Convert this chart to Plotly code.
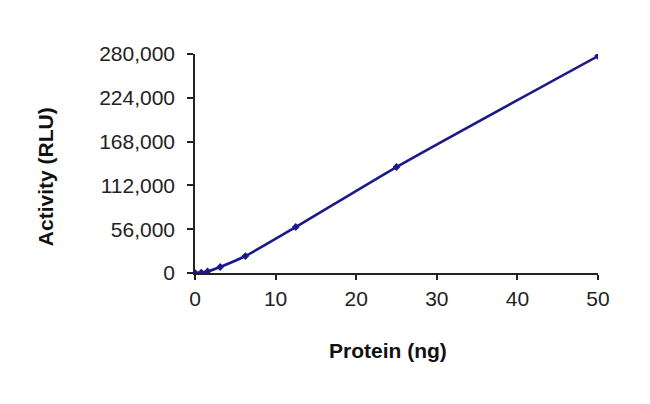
import plotly.graph_objects as go

protein_ng = [0, 0.78, 1.56, 3.125, 6.25, 12.5, 25, 50]
activity_rlu = [0, 600, 2000, 7700, 21700, 58800, 135500, 277400]

y_ticks = [0, 56000, 112000, 168000, 224000, 280000]
x_ticks = [0, 10, 20, 30, 40, 50]

x_title = "Protein (ng)"
y_title = "Activity (RLU)"

navy = "#1c1a8a"
font_family = "Liberation Sans, Arial, sans-serif"

fig = go.Figure()
fig.add_trace(go.Scatter(
    x=protein_ng, y=activity_rlu,
    mode="lines+markers",
    line=dict(color=navy, width=2.6, shape="spline", smoothing=0.6),
    marker=dict(symbol="diamond", size=6, color=navy),
    showlegend=False,
))

fig.update_layout(
    width=650, height=404,
    margin=dict(l=187, r=60, t=46, b=139),
    paper_bgcolor="white", plot_bgcolor="white",
    font=dict(family=font_family, size=21, color="#222222"),
)

fig.update_xaxes(
    range=[0, 50], tickvals=x_ticks,
    showgrid=False, zeroline=False,
    showline=True, linecolor="#222222", linewidth=1.5,
    ticks="outside", ticklen=5, tickcolor="#222222", tickwidth=1.5,
    ticklabelstandoff=1,
)
fig.update_yaxes(
    range=[0, 280000], tickvals=y_ticks, tickformat=",",
    showgrid=False, zeroline=False,
    showline=True, linecolor="#222222", linewidth=1.5,
    ticks="outside", ticklen=6, tickcolor="#222222", tickwidth=1.5,
    ticklabelstandoff=8,
)

fig.add_annotation(
    text="<b>" + x_title + "</b>", xref="paper", yref="paper",
    x=0.478, y=-0.352, xanchor="center", yanchor="middle",
    showarrow=False, font=dict(size=21, color="#111111"),
)
fig.add_annotation(
    text="<b>" + y_title + "</b>", xref="paper", yref="paper",
    x=-0.372, y=0.438, xanchor="center", yanchor="middle", textangle=-90,
    showarrow=False, font=dict(size=21, color="#111111"),
)

fig.write_html("out.html")
